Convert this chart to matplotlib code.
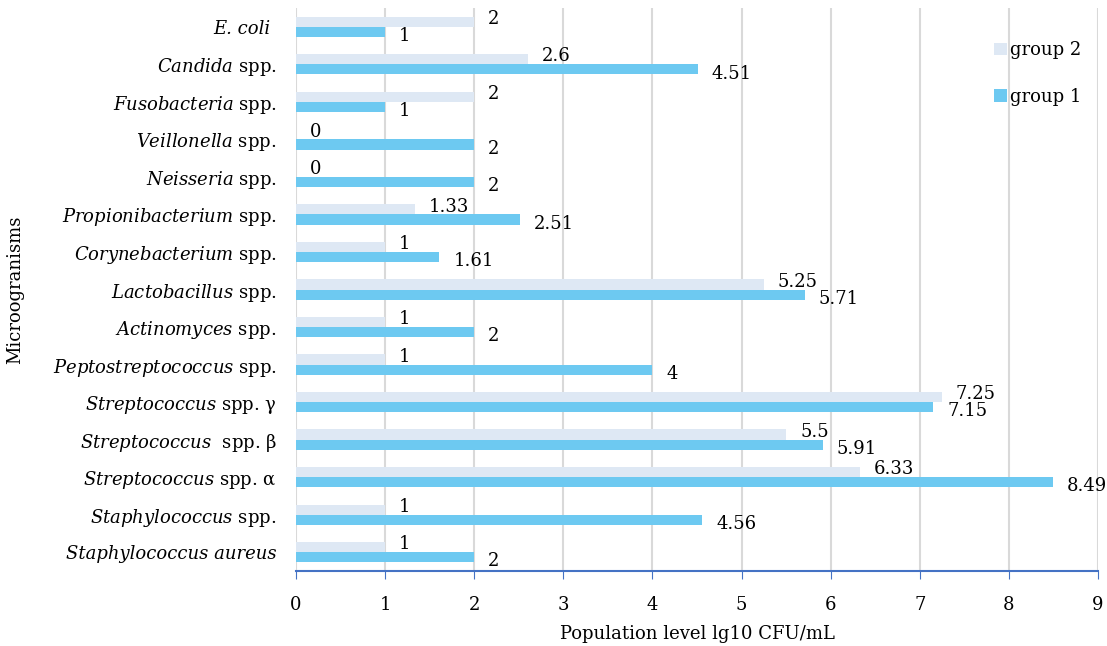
import numpy as np
import matplotlib
matplotlib.use('Agg')
import matplotlib.pyplot as plt
from matplotlib import rcParams

rcParams['font.family'] = ['DejaVu Serif']
rcParams['mathtext.fontset'] = 'custom'
rcParams['mathtext.rm'] = 'DejaVu Serif'
rcParams['mathtext.it'] = 'DejaVu Serif:italic'

# bottom to top
categories = [
    'Staphylococcus aureus',
    r'$\it{Staphylococcus}$ spp.',
    r'$\it{Streptococcus}$ spp. α',
    r'$\it{Streptococcus}$  spp. β',
    r'$\it{Streptococcus}$ spp. γ',
    r'$\it{Peptostreptococcus}$ spp.',
    r'$\it{Actinomyces}$ spp.',
    r'$\it{Lactobacillus}$ spp.',
    r'$\it{Corynebacterium}$ spp.',
    r'$\it{Propionibacterium}$ spp.',
    r'$\it{Neisseria}$ spp.',
    r'$\it{Veillonella}$ spp.',
    r'$\it{Fusobacteria}$ spp.',
    r'$\it{Candida}$ spp.',
    'E. coli ',
]
italic_labels = ['Staphylococcus aureus', 'E. coli ']
group1 = [2, 4.56, 8.49, 5.91, 7.15, 4, 2, 5.71, 1.61, 2.51, 2, 2, 1, 4.51, 1]
group2 = [1, 1, 6.33, 5.5, 7.25, 1, 1, 5.25, 1, 1.33, 0, 0, 2, 2.6, 2]
xticks = list(range(0, 10))

c1 = '#6DC9F1'
c2 = '#DEE8F4'
fs = 13

fig = plt.figure(figsize=(11.07, 6.46), dpi=100)
ax = fig.add_axes([296/1107, 75/646, 802/1107, 563/646])

y = np.arange(len(categories))
h = 0.27
ax.barh(y - h/2, group1, height=h, color=c1, label='group 1', zorder=2)
ax.barh(y + h/2, group2, height=h, color=c2, label='group 2', zorder=2)

for yi, v in zip(y, group1):
    ax.annotate(f'{v:g}', (v, yi - h/2), xytext=(10, -3), textcoords='offset points',
                ha='left', va='center', fontsize=fs)
for yi, v in zip(y, group2):
    ax.annotate(f'{v:g}', (v, yi + h/2), xytext=(10, 2), textcoords='offset points',
                ha='left', va='center', fontsize=fs)

ax.set_xlim(0, 9)
ax.set_ylim(-0.5, len(categories) - 0.5)
ax.set_xticks(xticks)
ax.set_yticks(y)
ax.set_yticklabels(categories, fontsize=fs)
for t in ax.get_yticklabels():
    if t.get_text() in italic_labels:
        t.set_fontstyle('italic')
ax.tick_params(axis='x', labelsize=fs, direction='out', length=6, color='#4472C4', pad=12)
ax.tick_params(axis='y', length=0, pad=14)
ax.grid(axis='x', color='#D9D9D9', linewidth=1.5, zorder=0)
for s in ['top', 'right', 'left']:
    ax.spines[s].set_visible(False)
ax.spines['bottom'].set_color('#4472C4')
ax.spines['bottom'].set_linewidth(1.5)

ax.set_xlabel('Population level lg10 CFU/mL', fontsize=fs, labelpad=8)
ax.set_ylabel('Microogranisms', fontsize=fs)
ax.yaxis.set_label_coords(-272/802, 0.5)

handles, labels = ax.get_legend_handles_labels()
ax.legend(handles[::-1], labels[::-1], loc='upper right', bbox_to_anchor=(1.0, 0.97),
          frameon=False, fontsize=fs, handlelength=0.7, handleheight=0.7,
          handletextpad=0.2, labelspacing=1.6)

fig.savefig('out.png', dpi=100)
